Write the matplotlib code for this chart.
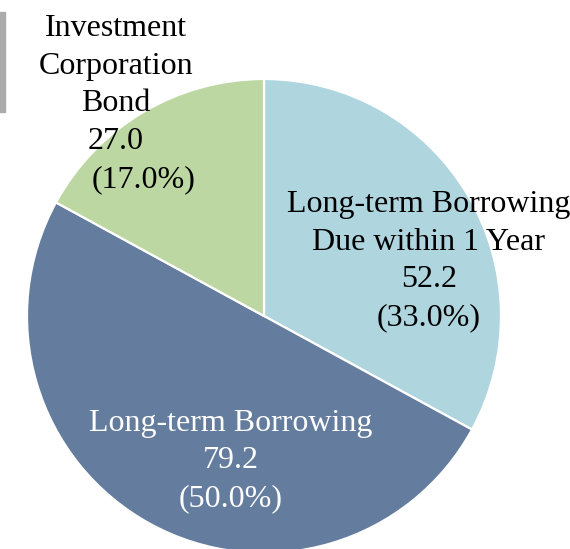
import matplotlib
matplotlib.use("Agg")
import matplotlib.pyplot as plt
from matplotlib.patches import Rectangle

# Borrowing breakdown
categories = ["Long-term Borrowing\nDue within 1 Year", "Long-term Borrowing", "Investment\nCorporation\nBond"]
values = [52.2, 79.2, 27.0]
colors = ["#AFD5DF", "#647C9E", "#BDD7A2"]
text_colors = ["black", "white", "black"]

W, H = 570, 549
fig = plt.figure(figsize=(W / 100, H / 100), dpi=100)
ax = fig.add_axes([0, 0, 1, 1])
ax.set_xlim(0, W)
ax.set_ylim(0, H)
ax.set_aspect("equal")
ax.axis("off")

cx, cy, r = 264, H - 316, 237
ax.pie(values, colors=colors, startangle=90, counterclock=False,
       center=(cx, cy), radius=r, frame=True,
       wedgeprops=dict(edgecolor="white", linewidth=1.6))
ax.set_xlim(0, W)
ax.set_ylim(0, H)
ax.axis("off")

total = sum(values)
font = dict(family="Liberation Serif", fontsize=23, ha="center", va="center")

def label(i):
    return f"{values[i]:.1f}", f"({values[i] / total * 100:.1f}%)"

# Long-term Borrowing Due within 1 Year
v, p = label(0)
ax.text(429, H - 261, f"{categories[0]}\n{v}\n{p}", color=text_colors[0],
        linespacing=1.4, **font)

# Long-term Borrowing
v, p = label(1)
ax.text(231, H - 461, f"{categories[1]}\n{v}\n{p}", color=text_colors[1],
        linespacing=1.4, **font)

# Investment Corporation Bond
v, p = label(2)
ax.text(116, H - 85, f"{categories[2]}\n{v}", color=text_colors[2],
        linespacing=1.4, **font)
ax.text(144, H - 180, p, color=text_colors[2], **font)

# Small gray marker at the top-left edge
fig.patches.append(Rectangle((0, 1 - 112 / H), 5 / W, 100 / H,
                             transform=fig.transFigure, color="#ABABAB"))

fig.savefig("out.png", dpi=100)
